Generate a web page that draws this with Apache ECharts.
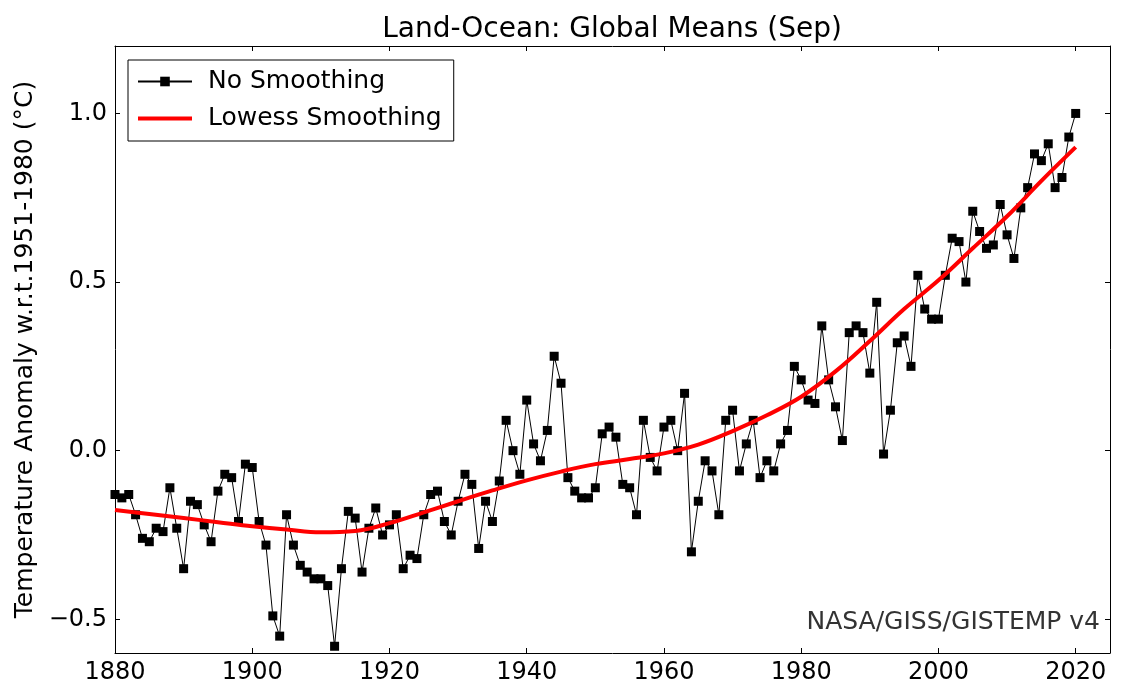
<!DOCTYPE html>
<html>
<head>
<meta charset="utf-8">
<script src="https://cdn.jsdelivr.net/npm/echarts@6/dist/echarts.min.js"></script>
<style>
html, body { margin: 0; padding: 0; background: #fff; }
#container { width: 1130px; height: 700px; }
</style>
</head>
<body>
<div id="container"></div>
<script>
var dom = document.getElementById("container");
var myChart = echarts.init(dom);

// September anomalies, 1880..2020
var startYear = 1880;
var anomaly = [
    -0.13, -0.14, -0.13, -0.19, -0.26, -0.27, -0.23, -0.24, -0.11, -0.23,
    -0.35, -0.15, -0.16, -0.22, -0.27, -0.12, -0.07, -0.08, -0.21, -0.04,
    -0.05, -0.21, -0.28, -0.49, -0.55, -0.19, -0.28, -0.34, -0.36, -0.38,
    -0.38, -0.40, -0.58, -0.35, -0.18, -0.20, -0.36, -0.23, -0.17, -0.25,
    -0.22, -0.19, -0.35, -0.31, -0.32, -0.19, -0.13, -0.12, -0.21, -0.25,
    -0.15, -0.07, -0.10, -0.29, -0.15, -0.21, -0.09, 0.09, 0.00, -0.07,
    0.15, 0.02, -0.03, 0.06, 0.28, 0.20, -0.08, -0.12, -0.14, -0.14,
    -0.11, 0.05, 0.07, 0.04, -0.10, -0.11, -0.19, 0.09, -0.02, -0.06,
    0.07, 0.09, 0.00, 0.17, -0.30, -0.15, -0.03, -0.06, -0.19, 0.09,
    0.12, -0.06, 0.02, 0.09, -0.08, -0.03, -0.06, 0.02, 0.06, 0.25,
    0.21, 0.15, 0.14, 0.37, 0.21, 0.13, 0.03, 0.35, 0.37, 0.35,
    0.23, 0.44, -0.01, 0.12, 0.32, 0.34, 0.25, 0.52, 0.42, 0.39,
    0.39, 0.52, 0.63, 0.62, 0.50, 0.71, 0.65, 0.60, 0.61, 0.73,
    0.64, 0.57, 0.72, 0.78, 0.88, 0.86, 0.91, 0.78, 0.81, 0.93,
    1.00
];

// lowess curve read every 5 years
var lowessYears = [1880, 1885, 1890, 1895, 1900, 1905, 1910, 1915, 1920, 1925,
    1930, 1935, 1940, 1945, 1950, 1955, 1960, 1965, 1970, 1975,
    1980, 1985, 1990, 1995, 2000, 2005, 2010, 2015, 2020];
var lowessVals = [-0.176, -0.188, -0.200, -0.212, -0.224, -0.234, -0.242, -0.238, -0.215, -0.183,
    -0.150, -0.118, -0.088, -0.062, -0.040, -0.025, -0.008, 0.018, 0.058, 0.105,
    0.160, 0.235, 0.325, 0.420, 0.505, 0.600, 0.695, 0.800, 0.900];

var xTicks = [1880, 1900, 1920, 1940, 1960, 1980, 2000, 2020];
var yTicks = [-0.5, 0.0, 0.5, 1.0];

var rawData = [];
for (var i = 0; i < anomaly.length; i++) {
    rawData.push([startYear + i, anomaly[i]]);
}
var lowessData = [];
for (var j = 0; j < lowessYears.length; j++) {
    lowessData.push([lowessYears[j], lowessVals[j]]);
}

var font = "DejaVu Sans";
var frameLine = { show: true, onZero: false, lineStyle: { color: '#000', width: 1 } };
var tickLine = { color: '#000', width: 1 };

function yFmt(v) {
    return v.toFixed(1).replace('-', '\u2212');
}

option = {
    backgroundColor: '#fff',
    animation: false,
    textStyle: { fontFamily: font },
    grid: { left: 115, right: 20, top: 46, bottom: 47, containLabel: false },
    graphic: [
        {
            type: 'text', x: 612, y: 16,
            style: { text: 'Land-Ocean: Global Means (Sep)', fill: '#000',
                font: '28px "DejaVu Sans"', textAlign: 'center' }
        },
        {
            type: 'text', x: 1100, y: 622,
            style: { text: 'NASA/GISS/GISTEMP v4', fill: '#333',
                font: '25px "DejaVu Sans"', textAlign: 'right', textVerticalAlign: 'middle' }
        }
    ],
    legend: {
        left: 128, top: 60,
        orient: 'vertical',
        borderColor: '#000', borderWidth: 1, borderRadius: 0,
        padding: [9, 12, 10, 9],
        itemWidth: 54, itemHeight: 12, itemGap: 12,
        symbolKeepAspect: true,
        textStyle: { fontFamily: font, fontSize: 25, color: '#000', padding: [0, 0, 0, 11] },
        data: [
            { name: 'No Smoothing' },
            { name: 'Lowess Smoothing', icon: 'path://M0,0L54,0L54,4L0,4Z' }
        ]
    },
    xAxis: [
        {
            type: 'value', min: 1880, max: 2025,
            axisLine: frameLine,
            axisTick: { show: true, inside: true, length: 5, customValues: xTicks, lineStyle: tickLine },
            axisLabel: { customValues: xTicks, formatter: function (v) { return String(v); },
                fontFamily: font, fontSize: 24, color: '#000', margin: 8 },
            splitLine: { show: false }
        },
        {
            type: 'value', min: 1880, max: 2025, position: 'top',
            axisLine: frameLine,
            axisTick: { show: true, inside: true, length: 5, customValues: xTicks, lineStyle: tickLine },
            axisLabel: { show: false },
            splitLine: { show: false }
        }
    ],
    yAxis: [
        {
            type: 'value', min: -0.6, max: 1.2,
            name: 'Temperature Anomaly w.r.t.1951-1980 (\u00b0C)',
            nameLocation: 'middle', nameGap: 65,
            nameTextStyle: { fontFamily: font, fontSize: 25, color: '#000' },
            axisLine: frameLine,
            axisTick: { show: true, inside: true, length: 5, customValues: yTicks, lineStyle: tickLine },
            axisLabel: { customValues: yTicks, formatter: yFmt, fontFamily: font, fontSize: 24, color: '#000', margin: 8 },
            splitLine: { show: false }
        },
        {
            type: 'value', min: -0.6, max: 1.2, position: 'right',
            axisLine: frameLine,
            axisTick: { show: true, inside: true, length: 5, customValues: yTicks, lineStyle: tickLine },
            axisLabel: { show: false },
            splitLine: { show: false }
        }
    ],
    series: [
        {
            name: 'No Smoothing',
            type: 'line',
            data: rawData,
            symbol: 'rect',
            symbolSize: 9,
            showAllSymbol: true,
            itemStyle: { color: '#000' },
            lineStyle: { color: '#000', width: 1 },
            z: 2
        },
        {
            name: 'Lowess Smoothing',
            type: 'line',
            data: lowessData,
            smooth: 0.4,
            symbol: 'none',
            itemStyle: { color: '#ff0000' },
            lineStyle: { color: '#ff0000', width: 4 },
            z: 3
        }
    ]
};

if (option && typeof option === "object") {
    myChart.setOption(option, true);
}
</script>
</body>
</html>
